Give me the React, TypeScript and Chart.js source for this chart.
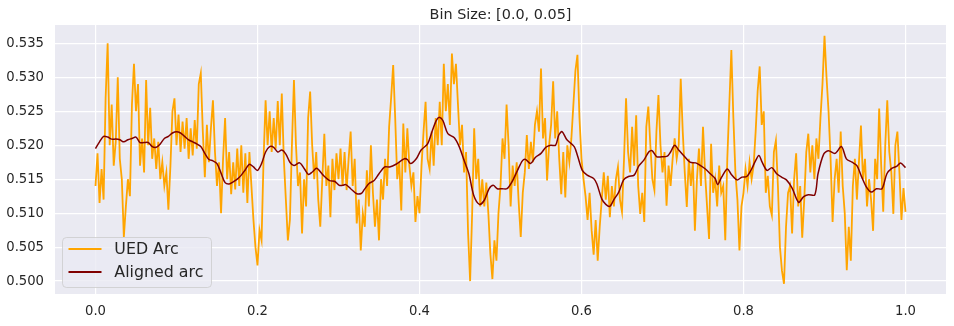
import React, { useEffect, useRef } from "react";
import { Chart, registerables } from "chart.js";

Chart.register(...registerables);

const TITLE = "Bin Size: [0.0, 0.05]";
const SERIES_NAMES = ["UED Arc", "Aligned arc"];
const X_TICKS = [0, 0.2, 0.4, 0.6, 0.8, 1.0];
const Y_TICKS = [0.5, 0.505, 0.51, 0.515, 0.52, 0.525, 0.53, 0.535];

// UED Arc, sampled every 0.0025 from x = 0 to x = 1
const UED_STEP = 0.0025;
const uedArc = [
  0.514, 0.5188, 0.5115, 0.5165, 0.512, 0.527, 0.535, 0.52, 0.526, 0.517,
  0.5205, 0.53, 0.518, 0.515, 0.5065, 0.511, 0.515, 0.5125, 0.526, 0.532,
  0.525, 0.529, 0.517, 0.521, 0.516, 0.5296, 0.52, 0.5255, 0.518, 0.521,
  0.5165, 0.5205, 0.515, 0.5175, 0.514, 0.516, 0.5105, 0.517, 0.525, 0.5269,
  0.52, 0.5245, 0.519, 0.5235, 0.5195, 0.524, 0.518, 0.5225, 0.5185, 0.5237,
  0.5195, 0.529, 0.5306, 0.522, 0.5153, 0.523, 0.5175, 0.5225, 0.5266, 0.519,
  0.514, 0.5175, 0.51, 0.518, 0.524, 0.515, 0.519, 0.5128, 0.5175, 0.5135,
  0.5195, 0.514, 0.52, 0.513, 0.5188, 0.5115, 0.519, 0.514, 0.509, 0.505,
  0.5023, 0.5075, 0.506, 0.518, 0.5266, 0.52, 0.525, 0.519, 0.524, 0.5195,
  0.5265, 0.52, 0.5276, 0.518, 0.512, 0.506, 0.509, 0.52, 0.5296, 0.52,
  0.514, 0.516, 0.507, 0.515, 0.511, 0.524, 0.5279, 0.52, 0.515, 0.519,
  0.512, 0.508, 0.515, 0.5217, 0.514, 0.517, 0.5094, 0.518, 0.5134, 0.5188,
  0.515, 0.5195, 0.514, 0.519, 0.5134, 0.518, 0.522, 0.514, 0.518, 0.5085,
  0.512, 0.5045, 0.51, 0.508, 0.5163, 0.511, 0.52, 0.513, 0.508, 0.512,
  0.506, 0.515, 0.512, 0.518, 0.514, 0.5227, 0.527, 0.5318, 0.524, 0.515,
  0.5175, 0.5104, 0.5232, 0.516, 0.5225, 0.517, 0.514, 0.516, 0.5087, 0.5125,
  0.51, 0.517, 0.522, 0.5264, 0.518, 0.5165, 0.522, 0.517, 0.524, 0.52,
  0.5264, 0.52, 0.532, 0.525, 0.529, 0.523, 0.5335, 0.529, 0.532, 0.526,
  0.52, 0.523, 0.516, 0.519, 0.507, 0.5, 0.51, 0.5225, 0.515, 0.518,
  0.511, 0.515, 0.511, 0.5145, 0.51, 0.504, 0.5003, 0.506, 0.503, 0.51,
  0.514, 0.521, 0.518, 0.526, 0.52, 0.511, 0.517, 0.514, 0.5175, 0.5115,
  0.5065, 0.513, 0.516, 0.5215, 0.5165, 0.5205, 0.5175, 0.523, 0.525, 0.522,
  0.5313, 0.521, 0.524, 0.5148, 0.52, 0.523, 0.5294, 0.521, 0.525, 0.518,
  0.5128, 0.519, 0.5123, 0.52, 0.5175, 0.521, 0.526, 0.531, 0.5333, 0.524,
  0.518, 0.515, 0.5125, 0.509, 0.513, 0.5075, 0.5039, 0.509, 0.503, 0.508,
  0.512, 0.516, 0.512, 0.5155, 0.5094, 0.514, 0.511, 0.515, 0.5168, 0.512,
  0.5102, 0.518, 0.5269, 0.519, 0.516, 0.5227, 0.517, 0.5244, 0.514, 0.5099,
  0.513, 0.5087, 0.5227, 0.5257, 0.52, 0.515, 0.5134, 0.522, 0.5274, 0.52,
  0.516, 0.519, 0.5111, 0.517, 0.514, 0.518, 0.521, 0.518, 0.52, 0.5298,
  0.522, 0.516, 0.5109, 0.518, 0.514, 0.5175, 0.5074, 0.515, 0.5195, 0.514,
  0.5227, 0.516, 0.511, 0.5062, 0.5202, 0.513, 0.515, 0.511, 0.517, 0.513,
  0.514, 0.506, 0.518, 0.526, 0.534, 0.524, 0.516, 0.512, 0.5045, 0.511,
  0.513, 0.5165, 0.514, 0.5175, 0.515, 0.517, 0.522, 0.528, 0.5316, 0.523,
  0.525, 0.513, 0.5155, 0.511, 0.5097, 0.519, 0.5207, 0.514, 0.505, 0.5015,
  0.4996, 0.508, 0.513, 0.514, 0.507, 0.515, 0.5188, 0.511, 0.514, 0.5064,
  0.512, 0.519, 0.5217, 0.516, 0.52, 0.515, 0.521, 0.518, 0.524, 0.529,
  0.5361, 0.53, 0.525, 0.518, 0.5087, 0.515, 0.518, 0.513, 0.522, 0.514,
  0.51, 0.5016, 0.508, 0.503, 0.514, 0.518, 0.512, 0.5175, 0.5229, 0.515,
  0.518, 0.511, 0.515, 0.512, 0.5074, 0.518, 0.515, 0.5254, 0.517, 0.5102,
  0.52, 0.5266, 0.519, 0.516, 0.5099, 0.52, 0.522, 0.516, 0.509, 0.5137,
  0.5102,
];

// Aligned arc, read at these x positions
const alignedX = [
  0, 0.005, 0.01, 0.015, 0.02, 0.025, 0.03, 0.035, 0.04, 0.045,
  0.05, 0.055, 0.06, 0.065, 0.07, 0.075, 0.08, 0.085, 0.09, 0.095,
  0.1, 0.105, 0.11, 0.115, 0.12, 0.125, 0.13, 0.135, 0.14, 0.145,
  0.15, 0.155, 0.16, 0.165, 0.17, 0.175, 0.18, 0.185, 0.19, 0.195,
  0.2, 0.205, 0.21, 0.215, 0.22, 0.225, 0.23, 0.235, 0.24, 0.245,
  0.252, 0.258, 0.263, 0.268, 0.273, 0.281, 0.289, 0.295, 0.301, 0.305,
  0.309, 0.315, 0.322, 0.328, 0.332, 0.338, 0.344, 0.35, 0.357, 0.363,
  0.371, 0.381, 0.385, 0.389, 0.396, 0.402, 0.41, 0.416, 0.421, 0.425,
  0.429, 0.435, 0.443, 0.449, 0.455, 0.461, 0.467, 0.474, 0.48, 0.486,
  0.491, 0.496, 0.502, 0.508, 0.515, 0.521, 0.527, 0.531, 0.537, 0.543,
  0.55, 0.556, 0.562, 0.568, 0.572, 0.576, 0.582, 0.591, 0.595, 0.601,
  0.607, 0.615, 0.619, 0.625, 0.63, 0.635, 0.64, 0.646, 0.652, 0.658,
  0.665, 0.671, 0.677, 0.683, 0.687, 0.693, 0.699, 0.706, 0.71, 0.715,
  0.72, 0.726, 0.734, 0.741, 0.747, 0.753, 0.759, 0.765, 0.768, 0.773,
  0.78, 0.785, 0.792, 0.798, 0.804, 0.81, 0.814, 0.819, 0.823, 0.829,
  0.835, 0.841, 0.847, 0.853, 0.86, 0.868, 0.874, 0.88, 0.888, 0.892,
  0.899, 0.905, 0.913, 0.921, 0.927, 0.934, 0.94, 0.946, 0.952, 0.958,
  0.964, 0.971, 0.977, 0.983, 0.989, 0.994, 1.0,
];
const alignedY = [
  0.5195, 0.5205, 0.5213, 0.5212, 0.5209, 0.5209, 0.5208, 0.5205, 0.5208, 0.521,
  0.5212, 0.5204, 0.5204, 0.5204, 0.5198, 0.5197, 0.5202, 0.521, 0.5213, 0.5218,
  0.522, 0.5218, 0.5213, 0.5208, 0.5205, 0.5202, 0.5198, 0.5188, 0.5179, 0.5177,
  0.5173, 0.5159, 0.5145, 0.5143, 0.5146, 0.515, 0.5156, 0.5164, 0.5172, 0.5168,
  0.5163, 0.5173, 0.519, 0.5198, 0.5197, 0.519, 0.5193, 0.5187, 0.5175, 0.517,
  0.5174, 0.5165, 0.5157, 0.5161, 0.5166, 0.5156, 0.5148, 0.5147, 0.5141, 0.5141,
  0.5142, 0.5136, 0.5129, 0.5129, 0.5135, 0.5144, 0.5148, 0.5158, 0.5168, 0.5168,
  0.5172, 0.518, 0.5179, 0.5173, 0.518, 0.5193, 0.5202, 0.5222, 0.5237, 0.5241,
  0.5236, 0.5217, 0.5211, 0.5198, 0.5178, 0.5158, 0.5126, 0.5113, 0.5119, 0.5136,
  0.5141, 0.5136, 0.5136, 0.5136, 0.5148, 0.5163, 0.5177, 0.5179, 0.5173, 0.5182,
  0.5188, 0.5197, 0.52, 0.52, 0.5215, 0.522, 0.5208, 0.5198, 0.5185, 0.5163,
  0.5156, 0.5151, 0.5143, 0.5121, 0.5113, 0.511, 0.512, 0.5131, 0.5149, 0.5154,
  0.5156, 0.517, 0.5178, 0.519, 0.5192, 0.5183, 0.5183, 0.5184, 0.519, 0.52,
  0.5193, 0.5185, 0.5175, 0.5174, 0.517, 0.5165, 0.5158, 0.5151, 0.5142, 0.5153,
  0.5165, 0.5157, 0.5149, 0.5153, 0.5154, 0.5165, 0.5175, 0.5185, 0.5175, 0.5163,
  0.5167, 0.5158, 0.5153, 0.5149, 0.5137, 0.5116, 0.5124, 0.5127, 0.5127, 0.5158,
  0.5187, 0.5192, 0.5188, 0.5198, 0.518, 0.5175, 0.517, 0.5153, 0.5138, 0.5131,
  0.5136, 0.5136, 0.5158, 0.5166, 0.5169, 0.5174, 0.5167,
];

const ORANGE = "#FFA500";
const DARKRED = "#800000";
const TEXT = "#262626";
const FONT = '"DejaVu Sans", "Liberation Sans", sans-serif';

const decorPlugin = {
  id: "decor",
  beforeDraw(chart: any) {
    const { ctx, chartArea } = chart;
    ctx.save();
    ctx.fillStyle = "#EAEAF2";
    ctx.fillRect(chartArea.left, chartArea.top, chartArea.right - chartArea.left, chartArea.bottom - chartArea.top);
    ctx.restore();
  },
  afterDraw(chart: any) {
    const { ctx, chartArea } = chart;
    ctx.save();
    // title
    ctx.fillStyle = TEXT;
    ctx.font = `14.4px ${FONT}`;
    ctx.textAlign = "center";
    ctx.textBaseline = "alphabetic";
    ctx.fillText(TITLE, (chartArea.left + chartArea.right) / 2, 18.5);

    // legend
    const bx = 62.5, by = 237.5, bw = 149, bh = 50, r = 4;
    ctx.beginPath();
    ctx.moveTo(bx + r, by);
    ctx.lineTo(bx + bw - r, by);
    ctx.quadraticCurveTo(bx + bw, by, bx + bw, by + r);
    ctx.lineTo(bx + bw, by + bh - r);
    ctx.quadraticCurveTo(bx + bw, by + bh, bx + bw - r, by + bh);
    ctx.lineTo(bx + r, by + bh);
    ctx.quadraticCurveTo(bx, by + bh, bx, by + bh - r);
    ctx.lineTo(bx, by + r);
    ctx.quadraticCurveTo(bx, by, bx + r, by);
    ctx.closePath();
    ctx.fillStyle = "rgba(234,234,242,0.8)";
    ctx.fill();
    ctx.strokeStyle = "rgba(204,204,204,0.8)";
    ctx.lineWidth = 1;
    ctx.stroke();

    const rows = [
      { color: ORANGE, label: SERIES_NAMES[0], y: 249 },
      { color: DARKRED, label: SERIES_NAMES[1], y: 272 },
    ];
    ctx.font = `15.84px ${FONT}`;
    ctx.textAlign = "left";
    ctx.textBaseline = "middle";
    for (const row of rows) {
      ctx.beginPath();
      ctx.strokeStyle = row.color;
      ctx.lineWidth = 2;
      ctx.moveTo(68.5, row.y);
      ctx.lineTo(101.5, row.y);
      ctx.stroke();
      ctx.fillStyle = TEXT;
      ctx.fillText(row.label, 114.3, row.y + 0.5);
    }
    ctx.restore();
  },
};

export default function App() {
  const canvasRef = useRef<HTMLCanvasElement | null>(null);

  useEffect(() => {
    const canvas = canvasRef.current;
    if (!canvas) return;
    const uedPoints = uedArc.map((y, i) => ({ x: i * UED_STEP, y }));
    const alignedPoints = alignedX.map((x, i) => ({ x, y: alignedY[i] }));

    const chart = new Chart(canvas, {
      type: "line",
      data: {
        datasets: [
          {
            label: SERIES_NAMES[0],
            data: uedPoints,
            borderColor: ORANGE,
            borderWidth: 1.8,
            pointRadius: 0,
            tension: 0,
            order: 1,
          },
          {
            label: SERIES_NAMES[1],
            data: alignedPoints,
            borderColor: DARKRED,
            borderWidth: 1.5,
            pointRadius: 0,
            tension: 0.3,
            order: 0,
          },
        ],
      },
      options: {
        animation: false,
        responsive: false,
        devicePixelRatio: 1,
        parsing: false as any,
        normalized: true,
        layout: { padding: { left: 0, right: 8, top: 25, bottom: 0 } },
        plugins: {
          legend: { display: false },
          title: { display: false },
          tooltip: { enabled: false },
        },
        scales: {
          x: {
            type: "linear",
            min: -0.05,
            max: 1.05,
            border: { display: false },
            grid: { color: "#FFFFFF", lineWidth: 1.2, drawTicks: false },
            ticks: {
              color: TEXT,
              font: { family: FONT, size: 13.2 },
              padding: 10,
              maxRotation: 0,
              callback: (v: any) => Number(v).toFixed(1),
            },
            afterBuildTicks: (scale: any) => {
              scale.ticks = X_TICKS.map((value) => ({ value }));
            },
            afterFit: (scale: any) => {
              scale.height = 32;
            },
          },
          y: {
            type: "linear",
            min: 0.4981,
            max: 0.5377,
            border: { display: false },
            grid: { color: "#FFFFFF", lineWidth: 1.2, drawTicks: false },
            ticks: {
              color: TEXT,
              font: { family: FONT, size: 13.2 },
              padding: 11,
              callback: (v: any) => Number(v).toFixed(3),
            },
            afterBuildTicks: (scale: any) => {
              scale.ticks = Y_TICKS.map((value) => ({ value }));
            },
            afterFit: (scale: any) => {
              scale.width = 55;
            },
          },
        },
      },
      plugins: [decorPlugin],
    });
    return () => chart.destroy();
  }, []);

  return (
    <div style={{ position: "fixed", left: 0, top: 0, width: 954, height: 326, background: "#FFFFFF" }}>
      <canvas ref={canvasRef} width={954} height={326} style={{ display: "block", width: 954, height: 326 }} />
    </div>
  );
}
